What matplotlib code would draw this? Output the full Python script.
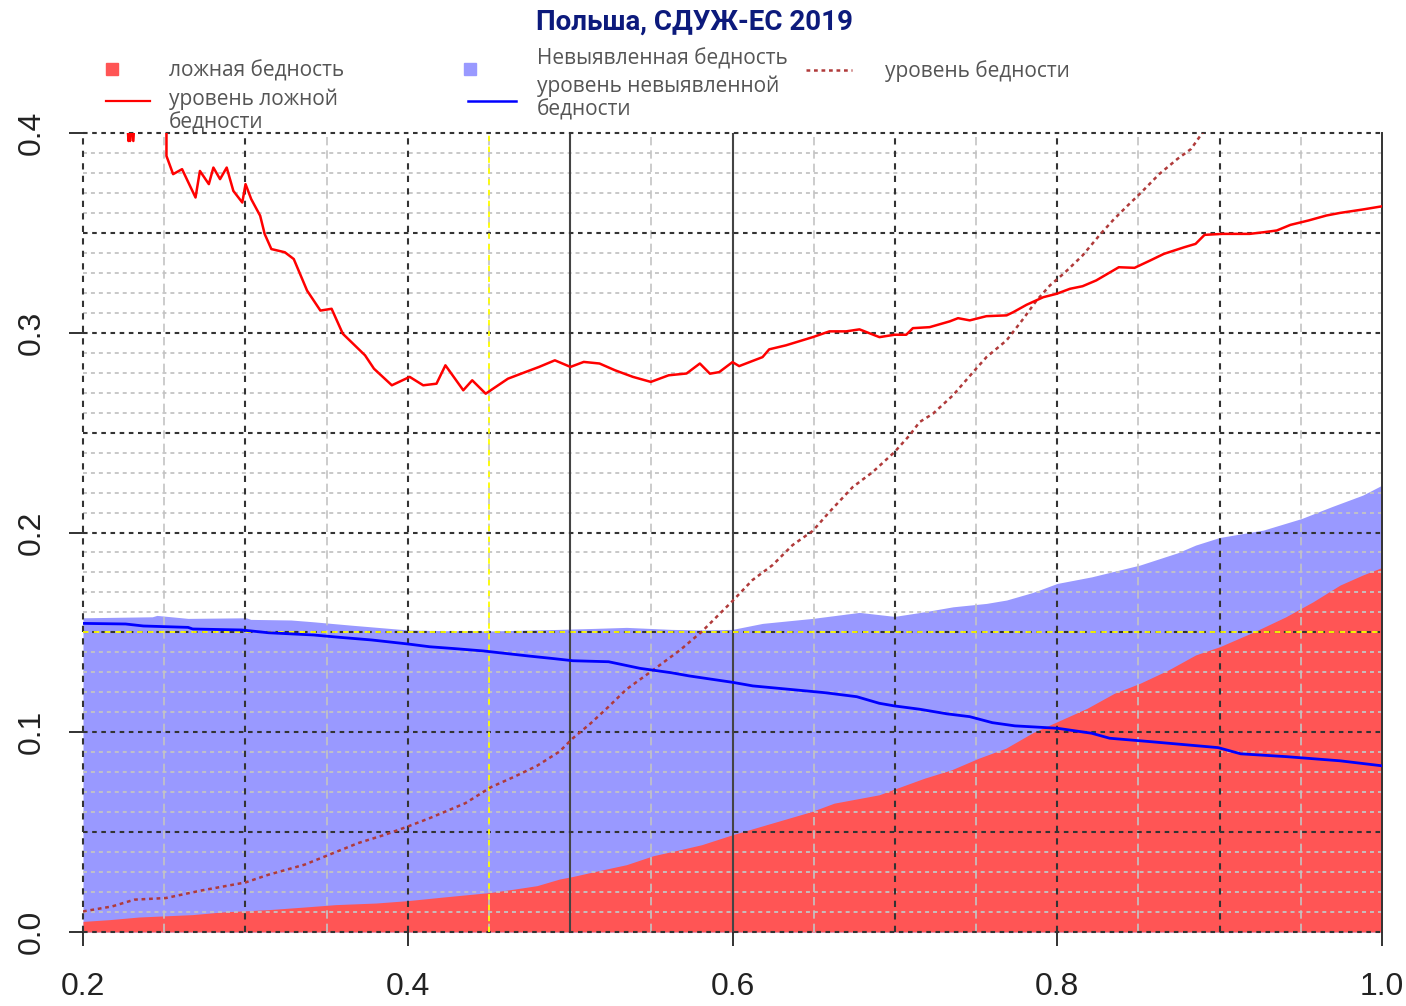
import numpy as np
import matplotlib
matplotlib.use("Agg")
import matplotlib.pyplot as plt
from matplotlib.lines import Line2D

# false poverty share (red area)
false_x = [0.2, 0.2165, 0.2344, 0.2675, 0.2854, 0.3143, 0.3364, 0.3556, 0.3804, 0.4, 0.4218,
           0.4512, 0.4658, 0.4796, 0.4934, 0.5017, 0.5154, 0.5347, 0.5512, 0.5678, 0.5810,
           0.6, 0.6209, 0.6487, 0.6626, 0.6904, 0.6996, 0.7182, 0.7349, 0.7516, 0.7683,
           0.7850, 0.8, 0.8184, 0.8351, 0.8509, 0.8685, 0.8852, 0.9, 0.9213, 0.9408,
           0.9575, 0.9742, 0.9881, 1.0]
false_y = [0.0053, 0.0062, 0.0075, 0.0087, 0.0100, 0.0112, 0.0125, 0.0137, 0.0145, 0.0157, 0.0175,
           0.0198, 0.0215, 0.0232, 0.0265, 0.0278, 0.0303, 0.0337, 0.0382, 0.0412, 0.0437,
           0.0487, 0.0537, 0.0603, 0.0645, 0.0687, 0.0715, 0.0770, 0.0812, 0.0870, 0.0920,
           0.0998, 0.1053, 0.1120, 0.1195, 0.1245, 0.1312, 0.1387, 0.1428, 0.1503, 0.1578,
           0.1653, 0.1737, 0.1787, 0.1825]

# false + undetected poverty (top of the blue area)
undet_x = [0.2, 0.2427, 0.2455, 0.2647, 0.3006, 0.3033, 0.3281, 0.3419, 0.3639, 0.3887, 0.4,
           0.4245, 0.4512, 0.4934, 0.5154, 0.5347, 0.5623, 0.5810, 0.6, 0.6185, 0.6494,
           0.6782, 0.6998, 0.7182, 0.7358, 0.7564, 0.7688, 0.7850, 0.8, 0.8212, 0.8509, 0.8740,
           0.8852, 0.9, 0.9269, 0.9505, 0.9686, 0.9881, 1.0]
undet_y = [0.1573, 0.1578, 0.1585, 0.1570, 0.1573, 0.1565, 0.1562, 0.1553, 0.1537, 0.1520, 0.1512,
           0.1508, 0.1507, 0.1515, 0.1520, 0.1525, 0.1515, 0.1512, 0.1515, 0.1545, 0.1570,
           0.1600, 0.1580, 0.1603, 0.1628, 0.1645, 0.1662, 0.1700, 0.1745, 0.1778, 0.1837, 0.1898,
           0.1937, 0.1975, 0.2012, 0.2070, 0.2128, 0.2187, 0.2237]

# level of false poverty (red line)
fl_x = [0.2, 0.215, 0.227, 0.228, 0.2285, 0.229, 0.2295, 0.231, 0.232, 0.245, 0.2514, 0.2514,
        0.2555, 0.2610, 0.2693,
        0.2720, 0.2775, 0.2803, 0.2844, 0.2885, 0.2926, 0.2981, 0.3001, 0.3036, 0.3091,
        0.3119, 0.3160, 0.3243, 0.3298, 0.3380, 0.3462, 0.3531, 0.3600, 0.3737, 0.3792,
        0.3902, 0.4012, 0.4095, 0.4177, 0.4232, 0.4342, 0.4397, 0.4480, 0.4617, 0.4727,
        0.4809, 0.4906, 0.5002, 0.5084, 0.5181, 0.5277, 0.5387, 0.5497, 0.5607, 0.5717,
        0.5799, 0.5861, 0.5918, 0.6, 0.6041, 0.6185, 0.6226, 0.6329, 0.6494, 0.6597,
        0.6700, 0.6782, 0.6905, 0.6998, 0.7070, 0.7111, 0.7214, 0.7338, 0.7389, 0.7461,
        0.7564, 0.7688, 0.7729, 0.7811, 0.7914, 0.7996, 0.8078, 0.8156, 0.8240, 0.8379,
        0.8476, 0.8573, 0.8657, 0.8782, 0.8852, 0.8907, 0.9018, 0.9185, 0.9269, 0.9352,
        0.9436, 0.9547, 0.9658, 0.9742, 0.9881, 1.0]
fl_y = [0.43, 0.42, 0.41, 0.396, 0.41, 0.396, 0.41, 0.396, 0.41, 0.42, 0.405, 0.3885,
        0.3794, 0.3819, 0.3677,
        0.3810, 0.3744, 0.3827, 0.3769, 0.3827, 0.3710, 0.3652, 0.3744, 0.3669, 0.3586,
        0.3494, 0.3419, 0.3403, 0.3369, 0.3211, 0.3111, 0.3120, 0.2995, 0.2887, 0.2820,
        0.2737, 0.2779, 0.2737, 0.2745, 0.2837, 0.2712, 0.2762, 0.2695, 0.2770, 0.2804,
        0.2829, 0.2862, 0.2829, 0.2854, 0.2846, 0.2812, 0.2779, 0.2754, 0.2787, 0.2796,
        0.2846, 0.2795, 0.2803, 0.2853, 0.2833, 0.2878, 0.2917, 0.2937, 0.2978, 0.3007,
        0.3007, 0.3017, 0.2978, 0.2990, 0.2990, 0.3023, 0.3028, 0.3057, 0.3073, 0.3062,
        0.3083, 0.3087, 0.3103, 0.3140, 0.3178, 0.3195, 0.3220, 0.3233, 0.3262, 0.3328,
        0.3325, 0.3362, 0.3395, 0.3428, 0.3445, 0.3490, 0.3495, 0.3495, 0.3503, 0.3512,
        0.3540, 0.3562, 0.3587, 0.3600, 0.3617, 0.3633]

# level of undetected poverty (blue line)
ul_x = [0.2, 0.2262, 0.2372, 0.2647, 0.2675, 0.2978, 0.3143, 0.3419, 0.3584, 0.3777, 0.4,
        0.4135, 0.4300, 0.4466, 0.4741, 0.4906, 0.5017, 0.5237, 0.5430, 0.5623, 0.5733,
        0.6, 0.6125, 0.6348, 0.6570, 0.6765, 0.6904, 0.6996, 0.7155, 0.7322, 0.7461,
        0.7600, 0.7739, 0.8, 0.8212, 0.8323, 0.8573, 0.8796, 0.8991, 0.9130, 0.9408,
        0.9742, 1.0]
ul_y = [0.1545, 0.1542, 0.1532, 0.1525, 0.1517, 0.1512, 0.1498, 0.1487, 0.1475, 0.1462, 0.1442,
        0.1428, 0.1418, 0.1407, 0.1382, 0.1368, 0.1358, 0.1353, 0.1320, 0.1298, 0.1282,
        0.1250, 0.1232, 0.1215, 0.1198, 0.1178, 0.1145, 0.1132, 0.1115, 0.1092, 0.1078,
        0.1048, 0.1032, 0.1020, 0.0995, 0.0970, 0.0953, 0.0937, 0.0923, 0.0892, 0.0878,
        0.0857, 0.0832]

# poverty level (dotted brown line)
pov_x = [0.2, 0.2179, 0.2317, 0.2510, 0.2730, 0.3, 0.3143, 0.3364, 0.3501, 0.3694, 0.3860,
         0.4, 0.4135, 0.4355, 0.4512, 0.4658, 0.4796, 0.4934, 0.5017, 0.5127, 0.5237,
         0.5347, 0.5512, 0.5678, 0.5810, 0.6, 0.6123, 0.6247, 0.6370, 0.6494, 0.6597,
         0.6741, 0.6864, 0.6998, 0.7091, 0.7152, 0.7235, 0.7358, 0.7482, 0.7564, 0.7688,
         0.7791, 0.7873, 0.7955, 0.8045, 0.8156, 0.8267, 0.8351, 0.8434, 0.8518, 0.8629,
         0.8740, 0.8824, 0.8893, 0.90]
pov_y = [0.0103, 0.0128, 0.0162, 0.0170, 0.0208, 0.0248, 0.0287, 0.0337, 0.0382, 0.0445, 0.0487,
         0.0528, 0.0570, 0.0645, 0.0725, 0.0778, 0.0832, 0.0903, 0.0970, 0.1045, 0.1128,
         0.1215, 0.1312, 0.1412, 0.1503, 0.1657, 0.1762, 0.1837, 0.1937, 0.2008, 0.2103,
         0.2228, 0.2303, 0.2403, 0.2487, 0.2553, 0.2595, 0.2687, 0.2803, 0.2878, 0.2962,
         0.3070, 0.3162, 0.3237, 0.3300, 0.3387, 0.3495, 0.3570, 0.3637, 0.3703, 0.3795,
         0.3870, 0.3920, 0.4000, 0.41]

cut_x = 0.45
cut_y = 0.15

RED_FILL = "#ff5555"
BLUE_FILL = "#9999ff"
POV_COL = "#b03a3a"
TXT = "#555555"
TICK_FONT = ["Liberation Sans", "DejaVu Sans"]

fig = plt.figure(figsize=(14.06, 10.06), dpi=100)
ax = fig.add_axes([83 / 1406, 1 - 932 / 1006, 1299 / 1406, 799 / 1006])

ax.fill_between(undet_x, 0, undet_y, color=BLUE_FILL, lw=0, zorder=1)
ax.fill_between(false_x, 0, false_y, color=RED_FILL, lw=0, zorder=1.1)

# grid: dark every 0.1 / 0.05, light in between
for v in np.arange(0.25, 1.0, 0.1):
    ax.axvline(v, color="#c4c4c4", lw=1.2, ls=(0, (5, 3)), zorder=2)
for v in [0.2, 0.3, 0.4, 0.7, 0.8, 0.9]:
    ax.axvline(v, color="#333333", lw=1.5, ls=(0, (3, 3)), zorder=2.2, clip_on=False)
for v in [0.5, 0.6]:
    ax.axvline(v, color="#444444", lw=1.5, zorder=2.2)
for v in np.arange(0.01, 0.4, 0.01):
    if round(v * 100) % 5:
        ax.axhline(v, color="#c4c4c4", lw=1.3, ls=(0, (2.2, 2.2)), zorder=2)
for v in np.arange(0.0, 0.41, 0.05):
    ax.axhline(v, color="#333333", lw=1.5, ls=(0, (2.2, 2.2)), zorder=2.2, clip_on=False)
ax.axvline(cut_x, color="#ffff00", lw=1.3, ls=(0, (3, 3)), zorder=2.4)
ax.axhline(cut_y, color="#ffff00", lw=1.3, ls=(0, (3, 3)), zorder=2.4)

ax.plot(pov_x, pov_y, color=POV_COL, lw=1.8, ls=(0, (1.5, 1.5)), zorder=3)
ax.plot(ul_x, ul_y, color="#0000ff", lw=2, zorder=3.2)
ax.plot(fl_x, fl_y, color="#ff0000", lw=1.8, zorder=3.3)

ax.set_xlim(0.2, 1.0)
ax.set_ylim(0.0, 0.4)
ax.set_xticks([0.2, 0.4, 0.6, 0.8, 1.0])
ax.set_xticklabels(["0.2", "0.4", "0.6", "0.8", "1.0"])
ax.set_yticks([0.0, 0.1, 0.2, 0.3, 0.4])
ax.set_yticklabels(["0.0", "0.1", "0.2", "0.3", "0.4"])
ax.tick_params(direction="out", length=10, width=1.3, colors="#222222", labelsize=23, pad=19)
ax.tick_params(axis="y", labelrotation=90, pad=16)
for lab in ax.get_yticklabels():
    lab.set_va("center")
    lab.set_family(TICK_FONT)
for lab in ax.get_xticklabels():
    lab.set_family(TICK_FONT)
for side in ["left", "top", "bottom"]:
    ax.spines[side].set_visible(False)
ax.spines["right"].set_color("#333333")
ax.spines["right"].set_linewidth(1.4)

fig.text(0.494, 0.978, "Польша, СДУЖ-ЕС 2019", ha="center", va="center", fontsize=20,
         fontweight="bold", color="#0c1a7c", family=["Roboto", "DejaVu Sans"])

# legend, drawn like the R legend in three columns
def key_square(x, y, color):
    fig.add_artist(Line2D([x / 1406], [1 - y / 1006], marker="s", ms=9, color=color, lw=0))

def key_line(x0, x1, y, **kw):
    fig.add_artist(Line2D([x0 / 1406, x1 / 1406], [1 - y / 1006, 1 - y / 1006], **kw))

def key_text(x, y, s):
    fig.text(x / 1406, 1 - y / 1006, s, ha="left", va="center", fontsize=15, color=TXT,
             family=["Open Sans", "DejaVu Sans"], linespacing=1.15)

key_square(112, 69, RED_FILL)
key_text(169, 71, "ложная бедность")
key_line(106, 150, 101, color="#ff0000", lw=1.6)
key_text(169, 111, "уровень ложной\nбедности")

key_square(470, 69, BLUE_FILL)
key_text(537, 59, "Невыявленная бедность")
key_line(468, 516, 101, color="#0000ff", lw=1.8)
key_text(537, 98, "уровень невыявленной\nбедности")

key_line(806, 852, 70, color=POV_COL, lw=1.8, ls=(0, (1.5, 1.5)))
key_text(885, 71, "уровень бедности")

fig.savefig("out.png", dpi=100)
